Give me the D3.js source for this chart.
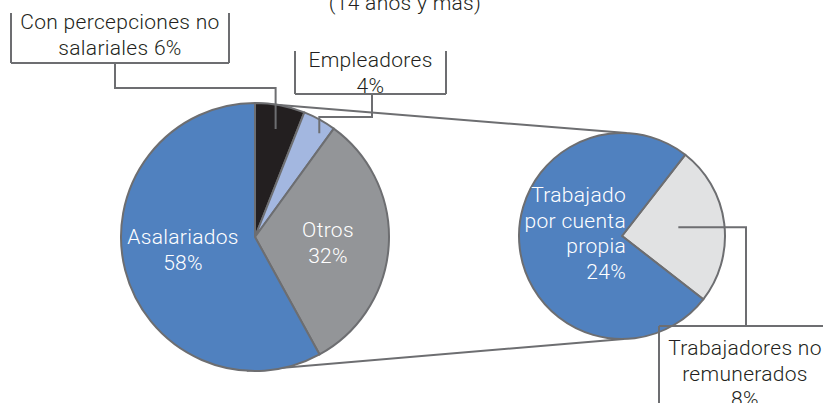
<!DOCTYPE html>
<html lang="es">
<head>
<meta charset="UTF-8">
<title>Pie of pie</title>
<script src="https://cdn.jsdelivr.net/npm/d3@7"></script>
<style>
  body { margin: 0; background: #fff; }
  svg text { font-family: Roboto, "Liberation Sans", sans-serif; font-weight: 300; font-size: 21px; letter-spacing: 0.3px; }
</style>
</head>
<body>
<div id="chart"></div>
<script>
// datos
var titleText = "(14 años y más)";
var mainLabels = ["Con percepciones no salariales", "Empleadores", "Otros", "Asalariados"];
var mainValues = [6, 4, 32, 58];
var subLabels = ["Trabajadores no remunerados", "Trabajado por cuenta propia"];
var subValues = [8, 24];

var width = 823, height = 403;
var mainColors = ["#231f20", "#a3b7e0", "#939598", "#5081bf"];
var subColors = ["#e1e2e3", "#5081bf"];
var stroke = "#6d6e71";

var svg = d3.select("#chart").append("svg")
    .attr("width", width).attr("height", height);

// titulo (cortado arriba)
svg.append("text").attr("x", 405).attr("y", 10)
    .attr("text-anchor", "middle").attr("fill", "#231f20").text(titleText);

var rad = Math.PI / 180;
function polar(c, r, a) { return [c[0] + r * Math.sin(a), c[1] - r * Math.cos(a)]; }

// pie principal
var mainC = [255, 237], mainR = 134;
var mainPie = d3.pie().sort(null)(mainValues);
var mainArc = d3.arc().innerRadius(0).outerRadius(mainR);

// pie secundario
var subC = [622, 236], subR = 103;
var subPie = d3.pie().sort(null).startAngle(37.9 * rad).endAngle(37.9 * rad + 2 * Math.PI)(subValues);
var subArc = d3.arc().innerRadius(0).outerRadius(subR);

// lineas de union
var joins = [[polar(mainC, mainR, 0), polar(subC, subR, 2.6 * rad)],
             [polar(mainC, mainR, 183.5 * rad), polar(subC, subR, 179 * rad)]];
svg.selectAll("line.join").data(joins).enter().append("line")
    .attr("x1", function (d) { return d[0][0]; }).attr("y1", function (d) { return d[0][1]; })
    .attr("x2", function (d) { return d[1][0]; }).attr("y2", function (d) { return d[1][1]; })
    .attr("stroke", stroke).attr("stroke-width", 2);

svg.append("g").attr("transform", "translate(" + mainC + ")")
  .selectAll("path").data(mainPie).enter().append("path")
    .attr("d", mainArc)
    .attr("fill", function (d, i) { return mainColors[i]; })
    .attr("stroke", stroke).attr("stroke-width", 2).attr("stroke-linejoin", "round");

svg.append("g").attr("transform", "translate(" + subC + ")")
  .selectAll("path").data(subPie).enter().append("path")
    .attr("d", subArc)
    .attr("fill", function (d, i) { return subColors[i]; })
    .attr("stroke", stroke).attr("stroke-width", 2).attr("stroke-linejoin", "round");

// etiquetas dentro de los sectores
function inner(x, y, anchor, lines) {
  var t = svg.append("text").attr("text-anchor", anchor).attr("fill", "#fff");
  lines.forEach(function (l, i) {
    t.append("tspan").attr("x", x).attr("y", y + i * 25.5).text(l);
  });
}
inner(183, 244, "middle", ["Asalariados", mainValues[3] + "%"]);
inner(328, 237, "middle", ["Otros", mainValues[2] + "%"]);
inner(626, 202, "end", ["Trabajado", "por cuenta", "propia", subValues[1] + "%"]);

// etiquetas con cajas y lineas guia
function mid(d) { return (d.startAngle + d.endAngle) / 2; }
var boxes = [
  { lines: ["Con percepciones no", "salariales " + mainValues[0] + "%"], x0: 11, x1: 229, y0: 13, y1: 63,
    tx: 120, ty: 29, sides: "lbr",
    guide: function () { var e = polar(mainC, 110, mid(mainPie[0])); return [[115, 63], [115, 88], [e[0], 88], e]; } },
  { lines: ["Empleadores", mainValues[1] + "%"], x0: 295, x1: 446, y0: 51, y1: 94,
    tx: 370.5, ty: 67, sides: "lbr",
    guide: function () { var e = polar(mainC, 122, mid(mainPie[1]) + 3 * rad); return [[372, 94], [372, 117], [e[0], 117], e]; } },
  { lines: ["Trabajadores no", "remunerados", subValues[0] + "%"], x0: 659, x1: 840, y0: 326, y1: 440,
    tx: 745, ty: 355, sides: "tl",
    guide: function () { var e = polar(subC, 57, mid(subPie[0]) - 1.7 * rad); return [e, [746, e[1]], [746, 326]]; } }
];

boxes.forEach(function (b) {
  var segs = [];
  if (b.sides.indexOf("t") >= 0) segs.push([[b.x0, b.y0], [b.x1, b.y0]]);
  if (b.sides.indexOf("l") >= 0) segs.push([[b.x0, b.y0], [b.x0, b.y1]]);
  if (b.sides.indexOf("b") >= 0) segs.push([[b.x0, b.y1], [b.x1, b.y1]]);
  if (b.sides.indexOf("r") >= 0) segs.push([[b.x1, b.y0], [b.x1, b.y1]]);
  segs.push(b.guide());
  segs.forEach(function (s) {
    svg.append("path").attr("d", d3.line()(s))
      .attr("fill", "none").attr("stroke", stroke).attr("stroke-width", 2);
  });
  var t = svg.append("text").attr("text-anchor", "middle").attr("fill", "#231f20");
  b.lines.forEach(function (l, i) {
    t.append("tspan").attr("x", b.tx).attr("y", b.ty + i * 25.5).text(l);
  });
});
</script>
</body>
</html>
